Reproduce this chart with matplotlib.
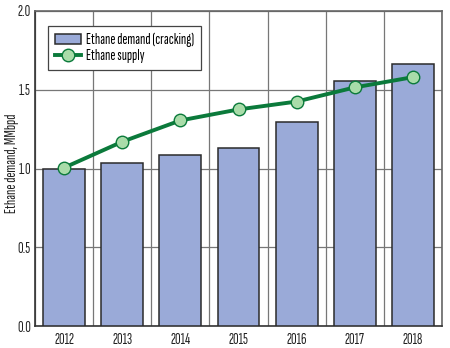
import matplotlib
matplotlib.use("Agg")
import matplotlib.pyplot as plt
import numpy as np

years = ["2012", "2013", "2014", "2015", "2016", "2017", "2018"]
demand = [0.995, 1.035, 1.085, 1.13, 1.295, 1.555, 1.665]
supply = [1.005, 1.17, 1.305, 1.375, 1.425, 1.515, 1.58]
yticks = [0.0, 0.5, 1.0, 1.5, 2.0]

plt.rcParams['font.family'] = ["Sofia Sans Extra Condensed", "Fira Sans Extra Condensed", "DejaVu Sans"]
plt.rcParams['font.weight'] = 500

fig = plt.figure(figsize=(4.5, 3.48), dpi=100)
ax = fig.add_axes([35/450, 1-326/348, 407/450, 315/348])

x = np.arange(len(years))
bars = ax.bar(x, demand, width=0.72, color="#9AAAD8", edgecolor="#2b2b2b", linewidth=1.1, zorder=3)
line, = ax.plot(x, supply, color="#0B7A3B", linewidth=2.8, marker="o", markersize=9,
                markerfacecolor="#A9DCA9", markeredgecolor="#0B7A3B", markeredgewidth=1.0, zorder=4)

ax.set_xlim(-0.5, len(years) - 0.5)
ax.set_ylim(0, 2.0)
ax.set_yticks(yticks)
ax.set_yticklabels([f"{v:.1f}" for v in yticks])
ax.set_xticks(x)
ax.set_xticklabels(years)
ax.set_xticks(np.arange(len(years) + 1) - 0.5, minor=True)
ax.grid(True, axis="y", which="major", color="#777777", linewidth=0.9, zorder=1)
ax.grid(True, axis="x", which="minor", color="#777777", linewidth=0.9, zorder=1)
ax.tick_params(which="both", length=0, labelsize=11, colors="#222222", pad=3)
ax.tick_params(axis="x", pad=5)
for s in ["top", "right"]:
    ax.spines[s].set_color("#666666")
    ax.spines[s].set_linewidth(1.2)
for s in ["left", "bottom"]:
    ax.spines[s].set_color("#333333")
    ax.spines[s].set_linewidth(1.2)
ax.set_axisbelow(True)
ax.set_ylabel("Ethane demand, MMbpd", fontsize=11, color="#222222")
ax.yaxis.set_label_coords(-0.057, 0.517)
ax.yaxis.label.set_va("center")

leg = ax.legend([bars, line], ["Ethane demand (cracking)", "Ethane supply"],
                loc="upper left", bbox_to_anchor=(0.032, 0.952), borderaxespad=0,
                fontsize=11, frameon=True,
                fancybox=False, edgecolor="#444444", framealpha=1, borderpad=0.45,
                handlelength=1.7, labelspacing=0.1, handletextpad=0.35)
leg.get_frame().set_linewidth(0.9)

fig.savefig("out.png", dpi=100)
